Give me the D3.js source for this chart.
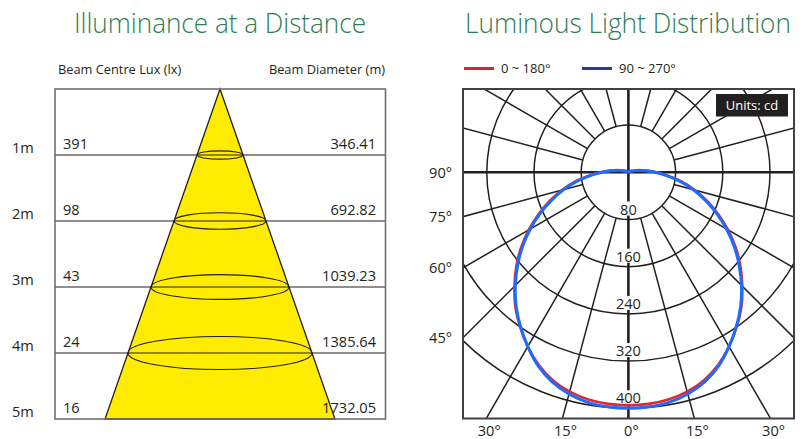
<!DOCTYPE html>
<html>
<head>
<meta charset="utf-8">
<script src="https://cdn.jsdelivr.net/npm/d3@7"></script>
<style>
  body { margin: 0; background: #fff; }
  text { font-family: "Open Sans", "Noto Sans", sans-serif; fill: #231f20; }
</style>
</head>
<body>
<div id="chart"></div>
<script>
// ==== Data ====
const distances = [1, 2, 3, 4, 5];
const distanceLabels = ["1m", "2m", "3m", "4m", "5m"];
const centreLux = [391, 98, 43, 24, 16];
const beamDiameter = [346.41, 692.82, 1039.23, 1385.64, 1732.05];

const polarAngles = [0, 5, 10, 15, 20, 25, 30, 35, 40, 45, 50, 55, 60, 65, 70, 75, 80, 85, 90,
                     95, 100, 105, 110, 120, 135, 150, 165, 180];
const cd0_180 = [395, 394, 391, 385, 375, 360, 341, 320, 298, 273, 248, 222, 195, 168, 142, 117, 92, 67, 47,
                 32, 20, 12, 7, 3, 1, 0.5, 0.5, 0.5];
const cd90_270 = [400, 399, 396, 389, 378, 362, 341, 319, 296, 271, 245, 219, 192, 165, 139, 114, 89, 65, 45,
                  30, 19, 11, 6, 2.5, 1, 0.5, 0.5, 0.5];
const ringValues = [80, 160, 240, 320, 400];
const spokeAngles = [15, 30, 45, 60, 75, 105, 120, 135, 150, 165];
const sideAngleLabels = [90, 75, 60, 45];
const bottomAngleLabels = [-30, -15, 0, 15, 30];
const legendItems = ["0 ~ 180°", "90 ~ 270°"];

const W = 808, H = 439;
const svg = d3.select("#chart").append("svg")
    .attr("width", W)
    .attr("height", H);

const green = "#2f7d52";
const ink = "#231f20";

// ==== Illuminance at a Distance ====
svg.append("text")
    .attr("x", 220).attr("y", 33)
    .attr("text-anchor", "middle")
    .attr("textLength", 292).attr("lengthAdjust", "spacingAndGlyphs")
    .style("font-size", "27px").style("font-weight", 300).style("fill", green)
    .text("Illuminance at a Distance");

const box = { x0: 55, x1: 385.5, y0: 89, y1: 419 };
const apexX = 220;
const y = d3.scaleLinear().domain([0, 5]).range([box.y0, box.y1]);
const w = d3.scaleLinear().domain([0, 1732.05]).range([0, 230]);

svg.append("text").attr("x", 58).attr("y", 74)
    .style("font-size", "12.8px").text("Beam Centre Lux (lx)");
svg.append("text").attr("x", 385).attr("y", 74).attr("text-anchor", "end")
    .style("font-size", "12.8px").text("Beam Diameter (m)");

const last = beamDiameter.length - 1;
svg.append("path")
    .attr("d", d3.line()([
        [apexX, y(0)],
        [apexX + w(beamDiameter[last]) / 2, y(distances[last])],
        [apexX - w(beamDiameter[last]) / 2, y(distances[last])]
    ]) + "Z")
    .attr("fill", "#ffec00")
    .attr("stroke", ink)
    .attr("stroke-width", 1.3);

const rows = distances.slice(0, -1);
svg.selectAll("line.row")
    .data(rows)
    .enter().append("line")
    .attr("class", "row")
    .attr("x1", box.x0).attr("x2", box.x1)
    .attr("y1", d => y(d)).attr("y2", d => y(d))
    .attr("stroke", ink).attr("stroke-width", 1.2);

svg.selectAll("ellipse.beam")
    .data(rows)
    .enter().append("ellipse")
    .attr("class", "beam")
    .attr("cx", apexX)
    .attr("cy", d => y(d))
    .attr("rx", (d, i) => w(beamDiameter[i]) / 2)
    .attr("ry", (d, i) => w(beamDiameter[i]) / 2 * 0.18)
    .attr("fill", "none")
    .attr("stroke", ink).attr("stroke-width", 1.1);

svg.append("rect")
    .attr("x", box.x0).attr("y", box.y0)
    .attr("width", box.x1 - box.x0).attr("height", box.y1 - box.y0)
    .attr("fill", "none").attr("stroke", "#6d6e71").attr("stroke-width", 1.6);

svg.selectAll("text.dist")
    .data(distances)
    .enter().append("text")
    .attr("class", "dist")
    .attr("x", 12).attr("y", d => y(d) - 2.5)
    .style("font-size", "14.6px")
    .text((d, i) => distanceLabels[i]);

svg.selectAll("text.lux")
    .data(distances)
    .enter().append("text")
    .attr("class", "lux")
    .attr("x", 63).attr("y", d => y(d) - 6)
    .style("font-size", "14.6px")
    .text((d, i) => centreLux[i]);

svg.selectAll("text.diam")
    .data(distances)
    .enter().append("text")
    .attr("class", "diam")
    .attr("x", 376).attr("y", d => y(d) - 6)
    .attr("text-anchor", "end")
    .style("font-size", "14.6px")
    .text((d, i) => beamDiameter[i].toFixed(2));

// ==== Luminous Light Distribution ====
svg.append("text")
    .attr("x", 628).attr("y", 33)
    .attr("text-anchor", "middle")
    .attr("textLength", 326).attr("lengthAdjust", "spacingAndGlyphs")
    .style("font-size", "27px").style("font-weight", 300).style("fill", green)
    .text("Luminous Light Distribution");

// legend
const legendColors = ["#d7262e", "#283d8f"];
const legendX = [464, 582];
legendItems.forEach((label, i) => {
    svg.append("line")
        .attr("x1", legendX[i]).attr("x2", legendX[i] + 30)
        .attr("y1", 68.5).attr("y2", 68.5)
        .attr("stroke", legendColors[i]).attr("stroke-width", 3);
    svg.append("text")
        .attr("x", legendX[i] + 37).attr("y", 73)
        .style("font-size", "13px")
        .text(label);
});

const pbox = { x0: 463, x1: 794, y0: 89, y1: 418.5 };
const cx = 628.4, cy = 172.3;
const r = d3.scaleLinear().domain([0, 400]).range([0, 236]);
const toRad = a => a * Math.PI / 180;

svg.append("clipPath").attr("id", "pclip")
    .append("rect")
    .attr("x", pbox.x0).attr("y", pbox.y0)
    .attr("width", pbox.x1 - pbox.x0).attr("height", pbox.y1 - pbox.y0);

const grid = svg.append("g").attr("clip-path", "url(#pclip)");

grid.selectAll("circle.ring")
    .data(ringValues)
    .enter().append("circle")
    .attr("class", "ring")
    .attr("cx", cx).attr("cy", cy)
    .attr("r", d => r(d))
    .attr("fill", "none").attr("stroke", ink).attr("stroke-width", 1.5);

// spokes: angle measured from straight down, both sides
const spokes = spokeAngles.flatMap(a => [a, -a]);
grid.selectAll("line.spoke")
    .data(spokes)
    .enter().append("line")
    .attr("class", "spoke")
    .attr("x1", a => cx + r(ringValues[0]) * Math.sin(toRad(a)))
    .attr("y1", a => cy + r(ringValues[0]) * Math.cos(toRad(a)))
    .attr("x2", a => cx + r(1000) * Math.sin(toRad(a)))
    .attr("y2", a => cy + r(1000) * Math.cos(toRad(a)))
    .attr("stroke", ink).attr("stroke-width", 1.5);

grid.append("line")
    .attr("x1", pbox.x0).attr("x2", pbox.x1)
    .attr("y1", cy).attr("y2", cy)
    .attr("stroke", ink).attr("stroke-width", 2.6);
grid.append("line")
    .attr("x1", cx).attr("x2", cx)
    .attr("y1", pbox.y0).attr("y2", pbox.y1)
    .attr("stroke", ink).attr("stroke-width", 2.6);

// ring value labels with a gap in the centre line
grid.selectAll("rect.lblbg")
    .data(ringValues)
    .enter().append("rect")
    .attr("class", "lblbg")
    .attr("x", cx - 14).attr("y", d => cy + r(d) - 18)
    .attr("width", 28).attr("height", 14)
    .attr("fill", "#fff");

svg.selectAll("text.ring")
    .data(ringValues)
    .enter().append("text")
    .attr("class", "ring")
    .attr("x", cx).attr("y", d => cy + r(d) - 5)
    .attr("text-anchor", "middle")
    .style("font-size", "14.6px")
    .text(d => d);

svg.append("rect")
    .attr("x", pbox.x0).attr("y", pbox.y0)
    .attr("width", pbox.x1 - pbox.x0).attr("height", pbox.y1 - pbox.y0)
    .attr("fill", "none").attr("stroke", "#414042").attr("stroke-width", 2);

// angle labels
svg.selectAll("text.side")
    .data(sideAngleLabels)
    .enter().append("text")
    .attr("class", "side")
    .attr("x", 452)
    .attr("y", a => cy + (cx - pbox.x0) / Math.tan(toRad(a)) + 5.5)
    .attr("text-anchor", "end")
    .style("font-size", "14.6px")
    .text(a => a + "°");

svg.selectAll("text.bottom")
    .data(bottomAngleLabels)
    .enter().append("text")
    .attr("class", "bottom")
    .attr("x", a => cx + (pbox.y1 - cy) * Math.tan(toRad(a)) + 3)
    .attr("y", 436)
    .attr("text-anchor", "middle")
    .style("font-size", "14.6px")
    .text(a => Math.abs(a) + "°");

// units badge
svg.append("rect")
    .attr("x", 716).attr("y", 94)
    .attr("width", 72).attr("height", 22.5)
    .attr("fill", ink);
svg.append("text")
    .attr("x", 752).attr("y", 110)
    .attr("text-anchor", "middle")
    .style("font-size", "13px").style("fill", "#fff")
    .text("Units: cd");

// distribution curves
const radial = d3.lineRadial()
    .angle(d => Math.PI - toRad(d.a))
    .radius(d => r(d.v))
    .curve(d3.curveCatmullRomClosed);

function closedCurve(values) {
    const right = polarAngles.map((a, i) => ({ a: a, v: values[i] }));
    const left = polarAngles.slice(1, -1).reverse()
        .map(a => ({ a: -a, v: values[polarAngles.indexOf(a)] }));
    return right.concat(left);
}

const curves = svg.append("g")
    .attr("clip-path", "url(#pclip)")
    .append("g")
    .attr("transform", `translate(${cx},${cy})`);

curves.append("path")
    .attr("d", radial(closedCurve(cd0_180)))
    .attr("fill", "none")
    .attr("stroke", "#e3262f")
    .attr("stroke-width", 2.6);

curves.append("path")
    .attr("d", radial(closedCurve(cd90_270)))
    .attr("fill", "none")
    .attr("stroke", "#1e6cff")
    .attr("stroke-width", 3);
</script>
</body>
</html>
